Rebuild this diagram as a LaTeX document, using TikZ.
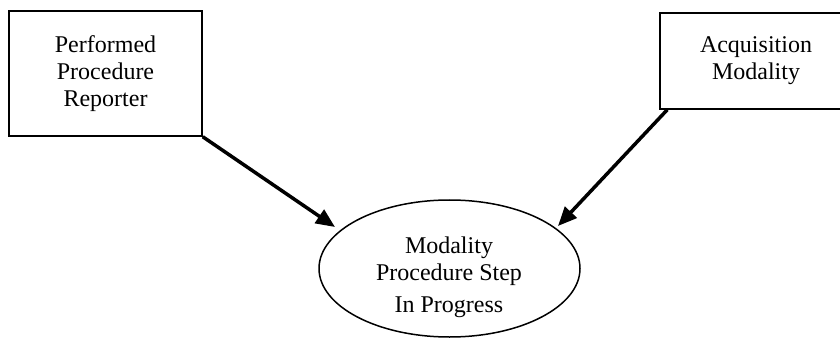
\documentclass[tikz,border=0pt]{standalone}
\usepackage{fontspec}
\setmainfont{Liberation Serif}
\usetikzlibrary{shapes.geometric,arrows.meta}
\begin{document}
\begin{tikzpicture}[x=1pt,y=-1pt,
  boxnode/.style={draw,line width=1.5pt,inner sep=0pt,align=center,
    font=\fontsize{24}{27}\selectfont},
  ovalnode/.style={draw,ellipse,line width=1.5pt,inner sep=0pt},
  labeltext/.style={align=center,inner sep=0pt,font=\fontsize{24}{27}\selectfont},
  flow/.style={line width=3.5pt,-{Triangle[length=19pt,width=16pt]}}]
  \useasboundingbox (0,0) rectangle (840,339);
  \clip (0,0) rectangle (840,339);
  % source boxes
  \node[boxnode,minimum width=193pt,minimum height=125pt] (ppr) at (105.5,73.5)
    {Performed\\Procedure\\Reporter};
  \node[boxnode,minimum width=192pt,minimum height=96pt] (acq) at (756,61)
    {Acquisition\\Modality};
  % target ellipse and its caption
  \node[ovalnode,minimum width=261pt,minimum height=137pt] (mps) at (449.5,268.5) {};
  \node[labeltext] (mpstext) at (449,277)
    {Modality\\Procedure Step\\[5pt]In Progress};
  % arrow tips near the ellipse border
  \coordinate (tipl) at (335,227);
  \coordinate (tipr) at (558,226);
  \draw[flow] (ppr.south east) -- (tipl);
  \draw[flow] ([xshift=8pt]acq.south west) -- (tipr);
\end{tikzpicture}
\end{document}
